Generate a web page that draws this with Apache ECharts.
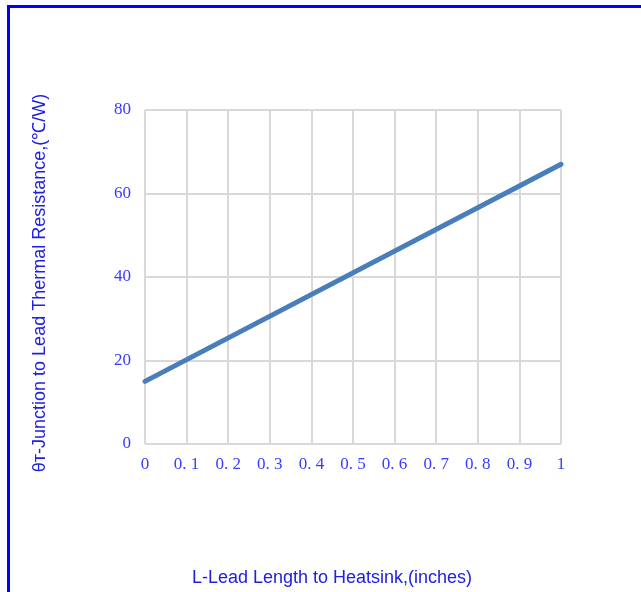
<!DOCTYPE html>
<html><head><meta charset="utf-8">
<script src="https://cdn.jsdelivr.net/npm/echarts@6/dist/echarts.min.js"></script>
<style>
html,body{margin:0;padding:0;background:#fff;}
#frame{position:absolute;left:7px;top:5px;width:634px;height:587px;border-top:3px solid #0000ff;border-left:3px solid #0000ff;box-sizing:border-box;}
#c{position:absolute;left:0;top:0;width:641px;height:592px;}
</style></head>
<body>
<div id="frame"></div>
<div id="c"></div>
<script>
const leadLength = [0, 1];            // inches
const thermalResistance = [15, 67];   // ℃/W
const xTicks = ['0','0. 1','0. 2','0. 3','0. 4','0. 5','0. 6','0. 7','0. 8','0. 9','1'];
const yTitle = 'θ\u0442-Junction to Lead Thermal Resistance,(\u2103/W)';
const xTitle = 'L-Lead Length to Heatsink,(inches)';

const chart = echarts.init(document.getElementById('c'), null, {renderer:'canvas'});
const labelStyle = {color:'#3a3aff', fontFamily:'"Liberation Serif","DejaVu Serif",serif', fontSize:17};
chart.setOption({
  animation:false,
  backgroundColor:'transparent',
  grid:{left:145, top:110, width:416, height:334, containLabel:false},
  xAxis:{type:'value', min:0, max:1, interval:0.1,
    axisLine:{show:false}, axisTick:{show:false},
    splitLine:{show:true, lineStyle:{color:'#d9d9d9', width:2}},
    axisLabel:Object.assign({margin:12, formatter:(v)=>xTicks[Math.round(v*10)]}, labelStyle)},
  yAxis:{type:'value', min:0, max:80, interval:20,
    axisLine:{show:false}, axisTick:{show:false},
    splitLine:{show:true, lineStyle:{color:'#d9d9d9', width:2}},
    axisLabel:Object.assign({margin:14}, labelStyle)},
  series:[{type:'line', data:leadLength.map((x,i)=>[x,thermalResistance[i]]),
    showSymbol:false, lineStyle:{color:'#4a7ebb', width:5, cap:'round'}}],
  graphic:[
    {type:'text', x:40, y:283, rotation:Math.PI/2, style:{text:yTitle, fill:'#2020e0', font:'18px "Liberation Sans", Arial, sans-serif', align:'center', verticalAlign:'middle'}},
    {type:'text', x:332, y:578, style:{text:xTitle, fill:'#2020e0', font:'18px "Liberation Sans", Arial, sans-serif', align:'center', verticalAlign:'middle'}}
  ]
});
</script>
</body></html>
